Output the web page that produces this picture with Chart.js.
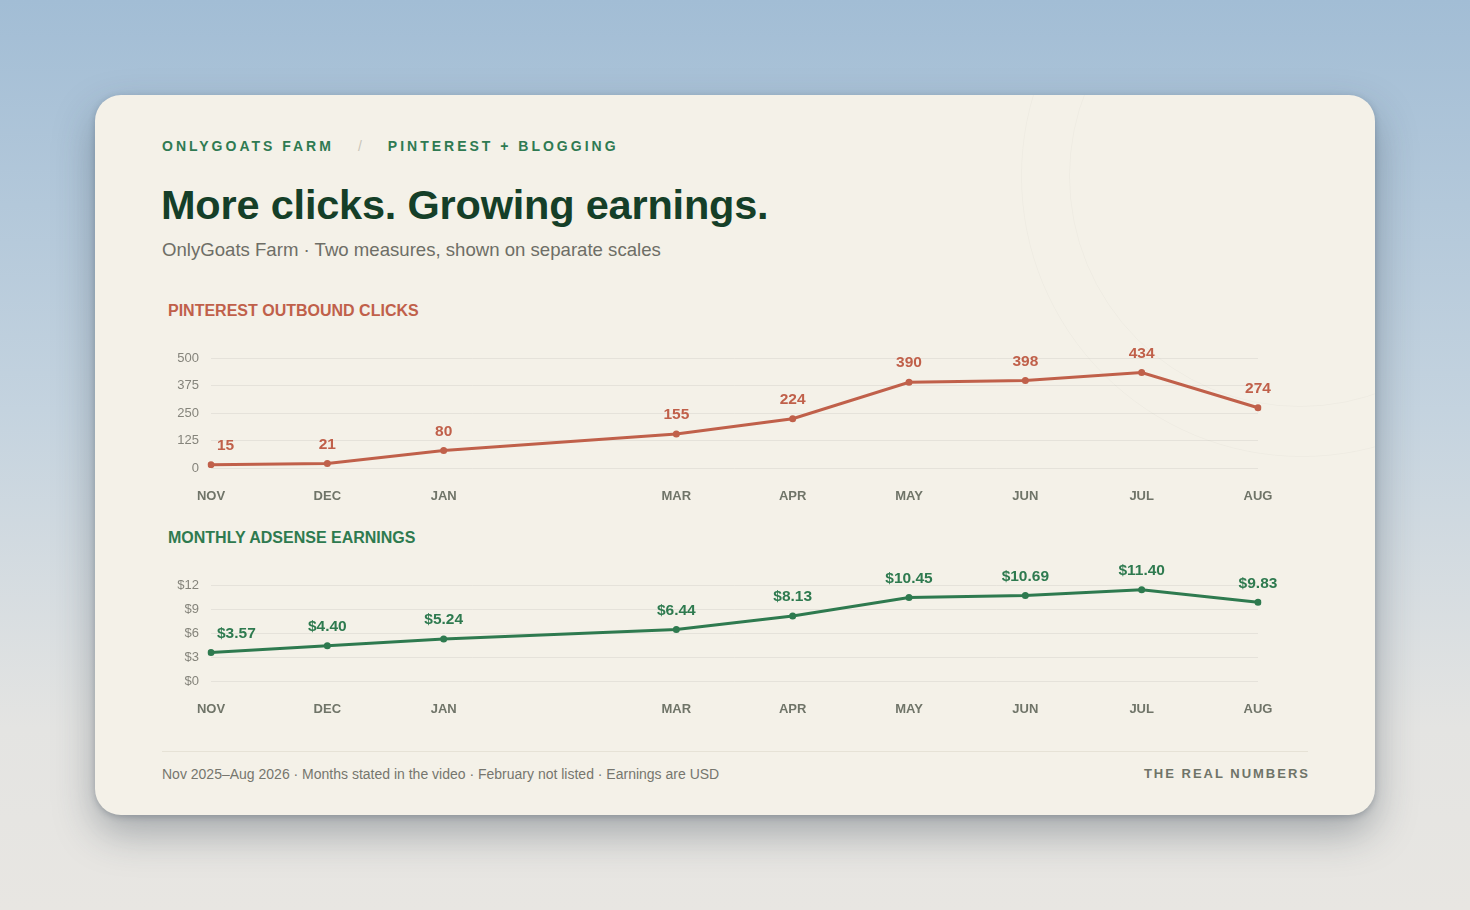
<!DOCTYPE html>
<html>
<head>
<meta charset="utf-8">
<script src="https://cdn.jsdelivr.net/npm/chart.js@4.4.1/dist/chart.umd.min.js"></script>
<style>
  html, body { margin:0; padding:0; }
  body {
    width:1470px; height:910px; overflow:hidden;
    background: linear-gradient(180deg, #a2bdd5 0%, #c4d3df 45%, #e4e4e2 80%, #e8e6e2 100%);
    font-family: "Liberation Sans", Arial, sans-serif;
  }
  .card {
    position:absolute; left:95px; top:95px; width:1280px; height:720px;
    background:#f4f1e8; border-radius:26px; overflow:hidden;
    box-shadow: 0 18px 40px rgba(40,55,70,0.35), 0 2px 6px rgba(40,55,70,0.25);
  }
  .ring { position:absolute; border-radius:50%; border:1px solid rgba(0,0,0,0.025); }
  .kicker {
    position:absolute; left:67px; top:43px; font-size:14px; font-weight:bold;
    letter-spacing:3px; color:#2f7a52;
  }
  .kicker .sep { color:#c9c5b8; margin:0 23px 0 24px; font-weight:normal; }
  h1 {
    position:absolute; left:66px; top:86px; margin:0; font-size:41.5px; font-weight:bold;
    letter-spacing:-0.2px; color:#153f28;
  }
  .sub { position:absolute; left:67px; top:144px; font-size:18.6px; color:#6e6e66; }
  .sect { position:absolute; left:73px; font-size:16px; font-weight:bold; }
  .s1 { top:207px; color:#c0604a; }
  .s2 { top:434px; color:#2e7a4f; }
  .cv { position:absolute; left:67px; width:1146px; }
  .rule { position:absolute; left:67px; top:656px; width:1146px; height:1px; background:#e6e2d6; }
  .foot { position:absolute; left:67px; top:671px; font-size:14px; color:#76766e; }
  .brand {
    position:absolute; right:67px; top:671px; font-size:13px; font-weight:bold;
    letter-spacing:2px; color:#6f7468; margin-right:-2px;
  }
</style>
</head>
<body>
<div class="card">
  <div class="ring" style="left:926px; top:-200px; width:560px; height:560px;"></div>
  <div class="ring" style="left:974px; top:-150px; width:460px; height:460px;"></div>
  <div class="kicker">ONLYGOATS FARM<span class="sep">/</span>PINTEREST + BLOGGING</div>
  <h1>More clicks. Growing earnings.</h1>
  <div class="sub">OnlyGoats Farm · Two measures, shown on separate scales</div>
  <div class="sect s1">PINTEREST OUTBOUND CLICKS</div>
  <div class="cv" style="top:240px; height:175px;"><canvas id="clicksChart"></canvas></div>
  <div class="sect s2">MONTHLY ADSENSE EARNINGS</div>
  <div class="cv" style="top:465px; height:165px;"><canvas id="earnChart"></canvas></div>
  <div class="rule"></div>
  <div class="foot">Nov 2025–Aug 2026 · Months stated in the video · February not listed · Earnings are USD</div>
  <div class="brand">THE REAL NUMBERS</div>
</div>

<script>
// months in the video (February not listed -> null)
const months = ['NOV', 'DEC', 'JAN', 'FEB', 'MAR', 'APR', 'MAY', 'JUN', 'JUL', 'AUG'];
const clicks = [15, 21, 80, null, 155, 224, 390, 398, 434, 274];
const earnings = [3.57, 4.40, 5.24, null, 6.44, 8.13, 10.45, 10.69, 11.40, 9.83];
const clickTicks = [0, 125, 250, 375, 500];
const earnTicks = [0, 3, 6, 9, 12];

const RED = '#c0604a';
const GREEN = '#2e7a4f';

// draws the value over each point
const valueLabels = {
  id: 'valueLabels',
  afterDatasetsDraw(chart, args, opts) {
    const ctx = chart.ctx;
    const meta = chart.getDatasetMeta(0);
    const vals = chart.data.datasets[0].data;
    ctx.save();
    ctx.font = 'bold 15.5px "Liberation Sans", Arial, sans-serif';
    ctx.fillStyle = opts.color;
    ctx.textBaseline = 'middle';
    meta.data.forEach((pt, i) => {
      if (vals[i] == null) return;
      let txt = opts.fmt(vals[i]);
      if (i === 0) {
        ctx.textAlign = 'left';
        ctx.fillText(txt, pt.x + 6, pt.y - 19);
      } else {
        ctx.textAlign = 'center';
        ctx.fillText(txt, pt.x, pt.y - 19);
      }
    });
    ctx.restore();
  }
};

const makeChart = (id, data, color, ticks, fmtTick, fmtLabel, padTop, xHeight) => {
  return new Chart(document.getElementById(id), {
    type: 'line',
    data: {
      labels: months,
      datasets: [{
        data: data,
        borderColor: color,
        backgroundColor: color,
        borderWidth: 3,
        pointRadius: 3.5,
        pointHoverRadius: 3.5,
        pointBorderWidth: 0,
        spanGaps: true,
        tension: 0
      }]
    },
    options: {
      responsive: true,
      maintainAspectRatio: false,
      animation: false,
      layout: { padding: { top: padTop, right: 50, left: 0, bottom: 0 } },
      plugins: {
        legend: { display: false },
        tooltip: { enabled: false },
        valueLabels: { color: color, fmt: fmtLabel }
      },
      scales: {
        x: {
          offset: false,
          grid: { display: false },
          border: { display: false },
          ticks: {
            padding: 13,
            color: '#6f7468',
            font: { family: '"Liberation Sans", Arial', size: 13, weight: 'bold' },
            maxRotation: 0,
            autoSkip: false,
            callback: (v, i) => months[i] === 'FEB' ? '' : months[i]
          },
          afterFit: (s) => { s.height = xHeight; }
        },
        y: {
          min: ticks[0],
          max: ticks[ticks.length - 1],
          afterBuildTicks: (s) => { s.ticks = ticks.map(v => ({ value: v })); },
          grid: { color: 'rgba(0,0,0,0.06)', drawTicks: false, lineWidth: 1 },
          border: { display: false },
          ticks: {
            padding: 12,
            color: '#85847b',
            font: { family: '"Liberation Sans", Arial', size: 13 },
            callback: fmtTick
          },
          afterFit: (s) => { s.width = 49; }
        }
      }
    },
    plugins: [valueLabels]
  });
};

makeChart('clicksChart', clicks, RED, clickTicks, v => String(v), v => String(v), 23, 42);
makeChart('earnChart', earnings, GREEN, earnTicks, v => '$' + v, v => '$' + v.toFixed(2), 25, 44);
</script>
</body>
</html>
